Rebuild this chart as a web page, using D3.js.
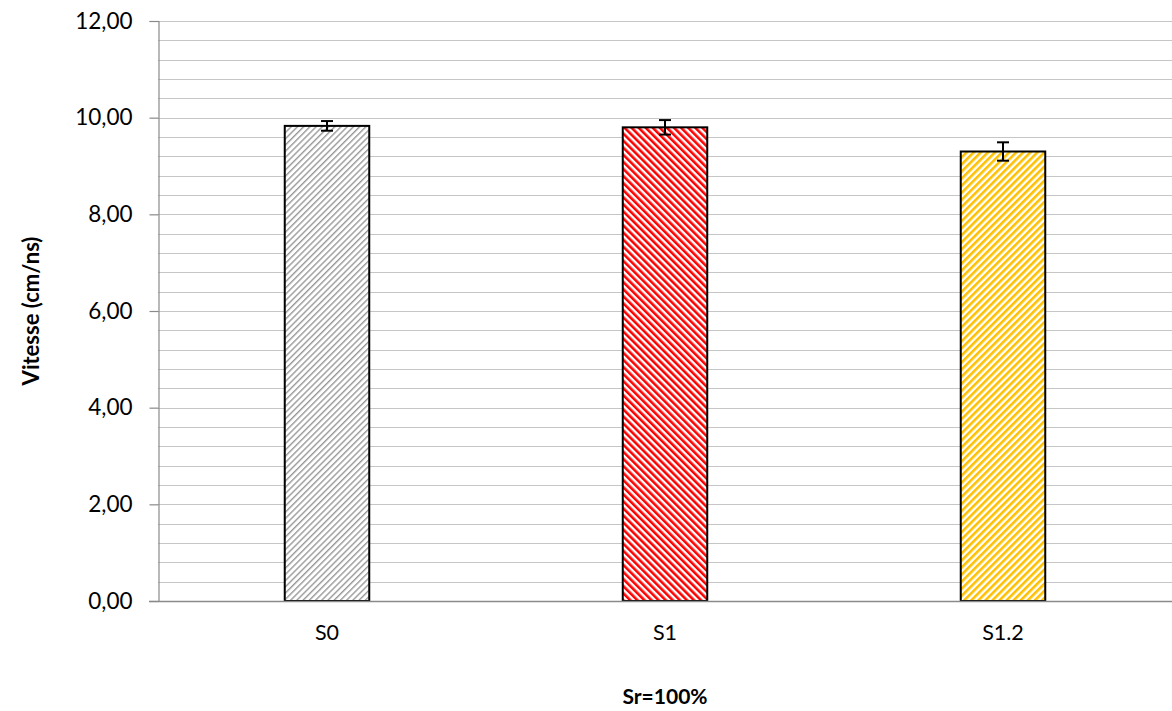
<!DOCTYPE html>
<html>
<head>
<meta charset="utf-8">
<script src="https://cdn.jsdelivr.net/npm/d3@7"></script>
<style>
  html, body { margin: 0; padding: 0; background: #fff; }
  svg { display: block; font-family: Lato, "Open Sans", sans-serif; }
</style>
</head>
<body>
<svg id="chart" width="1172" height="711"></svg>
<script>
// ---- data ----
const categories = ["S0", "S1", "S1.2"];
const values = [9.83, 9.80, 9.30];
const errors = [0.10, 0.15, 0.19];
const yTicks = [0, 2, 4, 6, 8, 10, 12];
const yTitle = "Vitesse (cm/ns)";
const xTitle = "Sr=100%";

// ---- layout ----
const svg = d3.select("#chart");
const W = 1172, H = 711;
const m = { left: 158, right: 0, top: 21, bottom: 110 };
const plotW = W - m.left - m.right;
const plotH = H - m.top - m.bottom;

const x = d3.scaleBand().domain(categories).range([m.left, m.left + plotW]).paddingInner(0.75).paddingOuter(0.375);
const y = d3.scaleLinear().domain([0, 12]).range([m.top + plotH, m.top]);

// ---- patterns ----
const defs = svg.append("defs");
function stripePattern(id, color, bg, period, width, angle) {
  const p = defs.append("pattern")
    .attr("id", id)
    .attr("patternUnits", "userSpaceOnUse")
    .attr("width", period).attr("height", period)
    .attr("patternTransform", `rotate(${angle})`);
  p.append("rect").attr("width", period).attr("height", period).attr("fill", bg);
  p.append("rect").attr("x", 0).attr("y", 0).attr("width", width).attr("height", period).attr("fill", color);
}
stripePattern("pS0", "#999999", "#ffffff", 4.4, 1.4, 45);
stripePattern("pS1", "#ff0000", "#ffffff", 5.0, 2.6, -45);
stripePattern("pS12", "#ffc000", "#ffffff", 5.0, 2.6, 45);
const fills = ["url(#pS0)", "url(#pS1)", "url(#pS12)"];

// ---- grid (minor every 0.4) ----
const gridVals = d3.range(0, 12.0001, 0.4).filter(v => v > 0.001);
svg.append("g").selectAll("line").data(gridVals).join("line")
  .attr("x1", m.left).attr("x2", m.left + plotW)
  .attr("y1", d => Math.round(y(d)) + 0.5).attr("y2", d => Math.round(y(d)) + 0.5)
  .attr("stroke", "#c6c6c6").attr("stroke-width", 1.2);

// ---- y axis ----
const yAxis = d3.axisLeft(y).tickValues(yTicks).tickSize(9).tickPadding(17)
  .tickFormat(d => d3.format(".2f")(d).replace(".", ","));
const gy = svg.append("g").attr("transform", `translate(${m.left + 0.5},0)`).call(yAxis);
gy.select(".domain").attr("stroke", "#8a8a8a").attr("stroke-width", 1.2);
gy.selectAll(".tick line").attr("stroke", "#8a8a8a").attr("stroke-width", 1.2);
gy.selectAll(".tick text").attr("font-size", 22.5).attr("fill", "#000").attr("font-family", "Lato, sans-serif");

// ---- bars ----
svg.append("g").selectAll("rect").data(categories).join("rect")
  .attr("x", d => x(d))
  .attr("y", (d, i) => y(values[i]))
  .attr("width", x.bandwidth())
  .attr("height", (d, i) => y(0) - y(values[i]))
  .attr("fill", (d, i) => fills[i])
  .attr("stroke", "#000").attr("stroke-width", 2);

// ---- x axis ----
const xAxis = d3.axisBottom(x).tickSize(0).tickPadding(23);
const gx = svg.append("g").attr("transform", `translate(0,${y(0) + 0.5})`).call(xAxis);
gx.select(".domain").attr("stroke", "#8a8a8a").attr("stroke-width", 1.5)
  .attr("d", `M${m.left - 9},0H${m.left + plotW}`);
gx.selectAll(".tick text").attr("font-size", 21.5).attr("fill", "#000").attr("font-family", "Lato, sans-serif");

// ---- error bars ----
const eb = svg.append("g").attr("stroke", "#000").attr("stroke-width", 2);
categories.forEach((c, i) => {
  const cx = x(c) + x.bandwidth() / 2;
  const y1 = y(values[i] + errors[i]), y2 = y(values[i] - errors[i]);
  eb.append("line").attr("x1", cx).attr("x2", cx).attr("y1", y1).attr("y2", y2);
  eb.append("line").attr("x1", cx - 6).attr("x2", cx + 6).attr("y1", y1).attr("y2", y1);
  eb.append("line").attr("x1", cx - 6).attr("x2", cx + 6).attr("y1", y2).attr("y2", y2);
});

// ---- titles ----
svg.append("text")
  .attr("transform", `translate(39,${m.top + plotH / 2}) rotate(-90)`)
  .attr("text-anchor", "middle").attr("font-size", 22).attr("font-weight", "bold")
  .text(yTitle);
svg.append("text")
  .attr("x", m.left + plotW / 2).attr("y", 704)
  .attr("text-anchor", "middle").attr("font-size", 21).attr("font-weight", "bold")
  .text(xTitle);
</script>
</body>
</html>
